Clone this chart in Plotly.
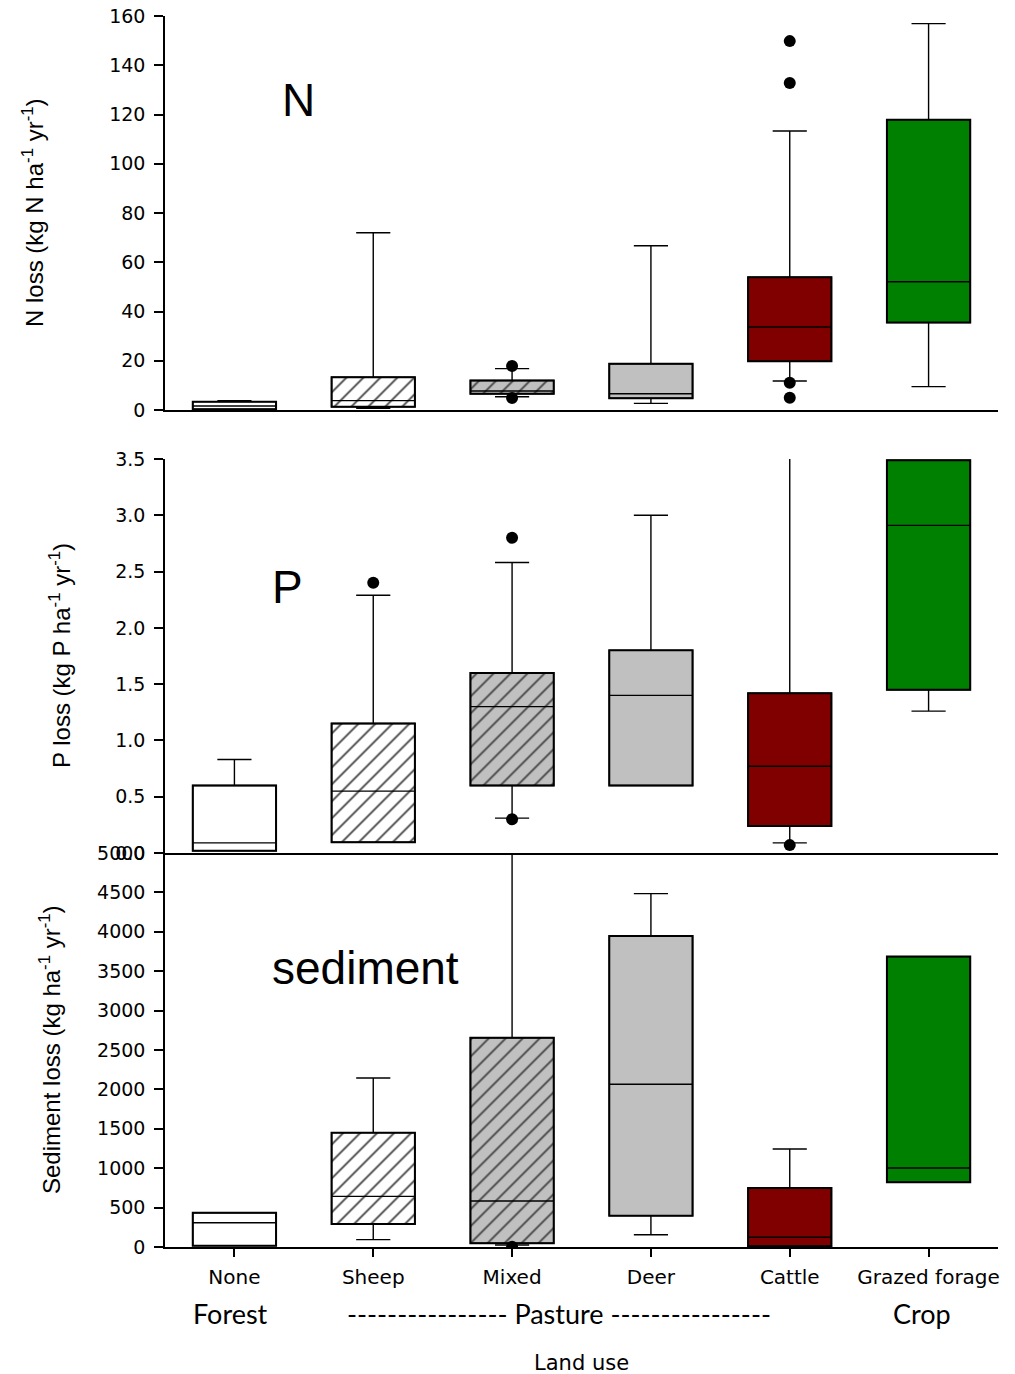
import plotly.graph_objects as go

# ---------------- data ----------------
categories = ["None", "Sheep", "Mixed", "Deer", "Cattle", "Grazed forage"]
xpos = [0, 1, 2, 3, 4, 5]

fill_colors = ["#ffffff", "#ffffff", "#c0c0c0", "#c0c0c0", "#800000", "#008000"]
hatch = ["", "/", "/", "", "", ""]

# N loss (kg N/ha/yr)
n_lower = [0.3, 0.7, 5.4, 2.7, 11.8, 9.5]
n_q1 = [0.3, 1.3, 6.6, 4.8, 19.8, 35.5]
n_med = [1.6, 3.8, 7.7, 6.6, 33.7, 52.1]
n_q3 = [3.4, 13.3, 12.0, 18.8, 53.9, 117.9]
n_upper = [3.8, 72.0, 16.8, 66.7, 113.3, 156.9]
n_out_cat = [2, 2, 4, 4, 4, 4]
n_out_val = [17.9, 4.9, 149.8, 132.8, 11.1, 5.0]

# P loss (kg P/ha/yr)
p_lower = [0.02, 0.095, 0.31, 0.6, 0.09, 1.26]
p_q1 = [0.02, 0.095, 0.6, 0.6, 0.24, 1.45]
p_med = [0.09, 0.55, 1.3, 1.4, 0.77, 2.91]
p_q3 = [0.6, 1.15, 1.6, 1.8, 1.42, 3.49]
p_upper = [0.83, 2.29, 2.58, 3.0, 3.9, 3.49]
p_out_cat = [1, 2, 2, 4]
p_out_val = [2.4, 2.8, 0.3, 0.07]

# Sediment loss (kg/ha/yr)
s_lower = [17, 93, 25, 156, 9, 821]
s_q1 = [17, 292, 47, 398, 9, 821]
s_med = [308, 643, 584, 2065, 123, 1003]
s_q3 = [435, 1451, 2656, 3947, 749, 3685]
s_upper = [435, 2145, 5500, 4484, 1244, 3685]
s_out_cat = [2]
s_out_val = [4]

panels = [
    dict(lower=n_lower, q1=n_q1, med=n_med, q3=n_q3, upper=n_upper,
         oc=n_out_cat, ov=n_out_val, xa="x", ya="y"),
    dict(lower=p_lower, q1=p_q1, med=p_med, q3=p_q3, upper=p_upper,
         oc=p_out_cat, ov=p_out_val, xa="x2", ya="y2"),
    dict(lower=s_lower, q1=s_q1, med=s_med, q3=s_q3, upper=s_upper,
         oc=s_out_cat, ov=s_out_val, xa="x3", ya="y3"),
]

BOXW = 0.6
fig = go.Figure()

for p in panels:
    # filled / hatched box bodies
    fig.add_trace(go.Bar(
        x=xpos, base=p["q1"], y=[b - a for a, b in zip(p["q1"], p["q3"])],
        width=BOXW, xaxis=p["xa"], yaxis=p["ya"],
        marker=dict(color=fill_colors, line=dict(color="black", width=2),
                    pattern=dict(shape=hatch, fgcolor="black", fgopacity=1,
                                 size=12, solidity=0.15)),
        showlegend=False, hoverinfo="skip"))
    # outlines, medians, whiskers
    for i in range(len(xpos)):
        fig.add_trace(go.Box(
            x=[xpos[i]], q1=[p["q1"][i]], median=[p["med"][i]], q3=[p["q3"][i]],
            lowerfence=[p["lower"][i]], upperfence=[p["upper"][i]],
            width=BOXW, whiskerwidth=0.41, fillcolor="rgba(0,0,0,0)",
            line=dict(color="black", width=1.4),
            xaxis=p["xa"], yaxis=p["ya"], showlegend=False, boxpoints=False))
    # outliers
    fig.add_trace(go.Scatter(
        x=[xpos[c] for c in p["oc"]], y=p["ov"], mode="markers",
        marker=dict(color="black", size=12, symbol="circle"),
        xaxis=p["xa"], yaxis=p["ya"], showlegend=False, hoverinfo="skip"))

TICKFONT = dict(family="DejaVu Sans", size=19, color="black")
XTICKFONT = dict(family="DejaVu Sans", size=20, color="black")

yax_common = dict(showline=True, linecolor="black", linewidth=1.5,
                  ticks="outside", ticklen=9, tickwidth=1.5, tickcolor="black",
                  showgrid=False, zeroline=False, tickfont=TICKFONT,
                  ticklabelstandoff=5, automargin=False)
xax_common = dict(range=[-0.5, 5.5], showline=True, linecolor="black",
                  linewidth=1.5, showgrid=False, zeroline=False,
                  tickvals=xpos, ticktext=categories, tickfont=XTICKFONT,
                  automargin=False)

H = 1231.0
d_bot = 394 / H
d_mid = 788 / H
d_top = 837 / H

fig.update_layout(
    width=1015, height=1374,
    margin=dict(l=165, r=17, t=16, b=127),
    paper_bgcolor="white", plot_bgcolor="white",
    barmode="overlay", boxmode="overlay", showlegend=False,
    xaxis=dict(xax_common, anchor="y", domain=[0, 1], showticklabels=False,
               ticks=""),
    xaxis2=dict(xax_common, anchor="y2", domain=[0, 1], showticklabels=False,
                ticks=""),
    xaxis3=dict(xax_common, anchor="y3", domain=[0, 1], ticks="outside",
                ticklen=8, tickwidth=1.5, tickcolor="black",
                ticklabelstandoff=3),
    yaxis=dict(yax_common, anchor="x", domain=[d_top, 1], range=[0, 160],
               tickvals=[0, 20, 40, 60, 80, 100, 120, 140, 160]),
    yaxis2=dict(yax_common, anchor="x2", domain=[d_bot, d_mid], range=[0, 3.5],
                tickvals=[0, 0.5, 1.0, 1.5, 2.0, 2.5, 3.0, 3.5],
                tickformat=".1f"),
    yaxis3=dict(yax_common, anchor="x3", domain=[0, d_bot], range=[0, 5000],
                tickvals=list(range(0, 5001, 500))),
)

def px_x(px):
    return (px - 165) / 833.0

def px_y(py):
    return (1247 - py) / H

ann = []
title_font = dict(family="Liberation Sans", size=24, color="black")
ann.append(dict(text="N loss (kg N ha<sup>-1</sup> yr<sup>-1</sup>)",
                x=px_x(33), y=px_y(213), textangle=-90, font=title_font))
ann.append(dict(text="P loss (kg P ha<sup>-1</sup> yr<sup>-1</sup>)",
                x=px_x(60), y=px_y(656), textangle=-90, font=title_font))
ann.append(dict(text="Sediment loss (kg ha<sup>-1</sup> yr<sup>-1</sup>)",
                x=px_x(50), y=px_y(1050), textangle=-90, font=title_font))

big = dict(family="Liberation Sans", size=46, color="black")
ann.append(dict(text="N", x=px_x(280), y=px_y(100), xanchor="left", font=big))
ann.append(dict(text="P", x=px_x(270), y=px_y(587), xanchor="left", font=big))
ann.append(dict(text="sediment", x=px_x(270), y=px_y(968), xanchor="left",
                font=big))

grp = dict(family="Lato", size=27, color="black")
ann.append(dict(text="Forest", x=px_x(230), y=px_y(1313), font=grp))
ann.append(dict(text="---------------- Pasture ----------------",
                x=px_x(559), y=px_y(1313), font=grp))
ann.append(dict(text="Crop", x=px_x(922), y=px_y(1313), font=grp))
ann.append(dict(text="Land use", x=px_x(581), y=px_y(1363),
                font=dict(family="DejaVu Sans", size=21, color="black")))

for a in ann:
    a.setdefault("xanchor", "center")
    a.update(xref="paper", yref="paper", yanchor="middle", showarrow=False)

fig.update_layout(annotations=ann)

fig.write_html("out.html",
               config={"displayModeBar": False},
               post_script="document.body.style.margin='0px';"
                           "document.body.style.overflow='hidden';")
